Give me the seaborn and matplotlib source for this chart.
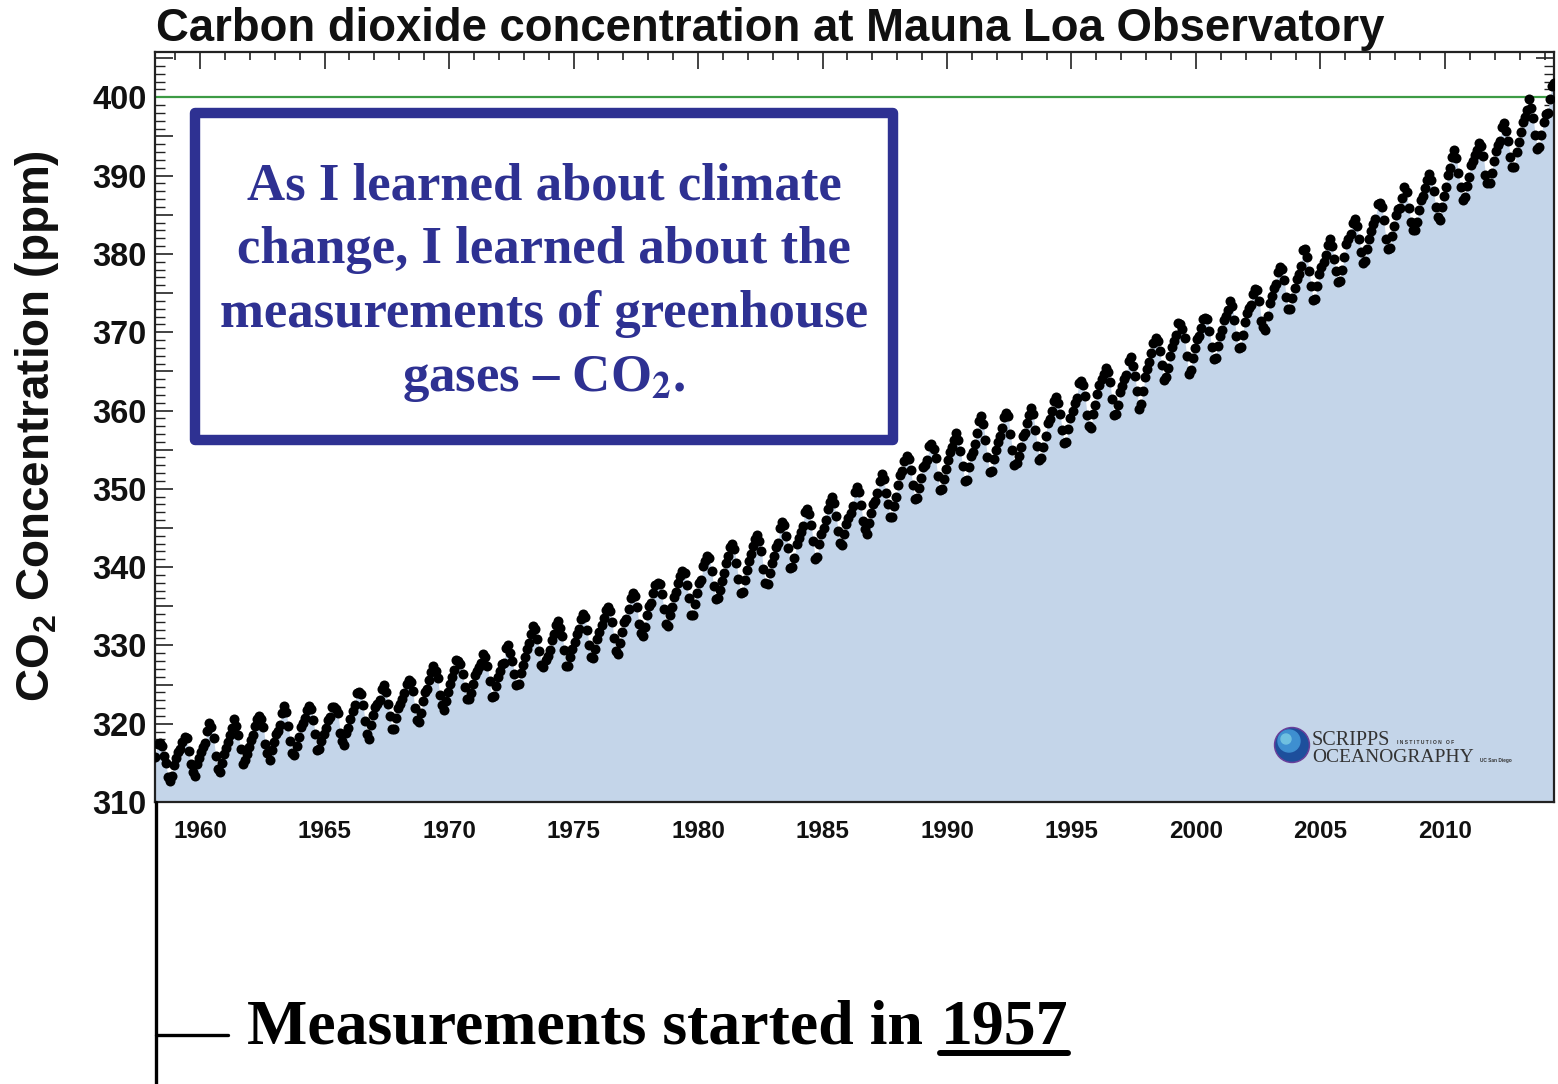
import numpy as np
import pandas as pd
import matplotlib
matplotlib.use("Agg")
import matplotlib.pyplot as plt
import seaborn as sns
from matplotlib.ticker import MultipleLocator, FuncFormatter
from matplotlib.patches import Rectangle, Circle
from matplotlib.lines import Line2D

# ---------------- data (monthly mean CO2, ppm) ----------------
years = list(range(1958, 2015))
first_month_1958 = 3  # record starts in March 1958
co2_monthly = [
    [315.71, 317.45, 317.50, 317.10, 315.86, 314.93, 313.20, 312.66, 313.33, 314.67],  # 1958
    [315.62, 316.38, 316.71, 317.72, 318.29, 318.15, 316.54, 314.80, 313.84, 313.26, 314.80, 315.58],
    [316.43, 316.97, 317.58, 319.02, 320.03, 319.59, 318.18, 315.91, 314.16, 313.83, 315.00, 316.19],
    [316.93, 317.70, 318.54, 319.48, 320.58, 319.77, 318.57, 316.79, 314.80, 315.38, 316.10, 317.01],
    [317.94, 318.56, 319.68, 320.63, 321.01, 320.55, 319.58, 317.40, 316.26, 315.42, 316.69, 317.69],
    [318.74, 319.08, 319.86, 321.39, 322.25, 321.47, 319.74, 317.77, 316.21, 315.99, 317.12, 318.31],
    [319.57, 320.07, 320.73, 321.77, 322.25, 321.89, 320.44, 318.70, 316.70, 316.79, 317.79, 318.71],
    [319.44, 320.44, 320.89, 322.13, 322.16, 321.87, 321.39, 318.81, 317.81, 317.30, 318.87, 319.42],
    [320.62, 321.59, 322.39, 323.87, 324.01, 323.75, 322.39, 320.37, 318.64, 318.10, 319.79, 321.08],
    [322.07, 322.50, 323.04, 324.42, 325.00, 324.09, 322.55, 320.92, 319.31, 319.31, 320.72, 321.96],
    [322.57, 323.15, 323.89, 325.02, 325.57, 325.36, 324.14, 322.03, 320.41, 320.25, 321.31, 322.84],
    [324.00, 324.42, 325.64, 326.66, 327.34, 326.76, 325.88, 323.67, 322.38, 321.78, 322.85, 324.11],
    [325.03, 325.99, 326.87, 328.13, 328.07, 327.66, 326.35, 324.69, 323.10, 323.16, 323.98, 325.13],
    [326.17, 326.68, 327.18, 327.78, 328.92, 328.57, 327.34, 325.46, 323.36, 323.57, 324.80, 326.01],
    [326.77, 327.63, 327.75, 329.72, 330.07, 329.09, 328.05, 326.32, 324.93, 325.06, 326.50, 327.55],
    [328.54, 329.56, 330.30, 331.50, 332.48, 332.07, 330.87, 329.31, 327.51, 327.18, 328.16, 328.64],
    [329.35, 330.71, 331.48, 332.65, 333.09, 332.25, 331.18, 329.40, 327.43, 327.37, 328.46, 329.57],
    [330.40, 331.40, 332.04, 333.31, 333.96, 333.59, 331.91, 330.06, 328.56, 328.34, 329.49, 330.76],
    [331.75, 332.56, 333.50, 334.58, 334.87, 334.34, 333.05, 330.94, 329.30, 328.94, 330.31, 331.68],
    [332.93, 333.42, 334.70, 336.07, 336.74, 336.27, 334.93, 332.75, 331.58, 331.16, 332.40, 333.85],
    [334.97, 335.39, 336.64, 337.76, 338.01, 337.89, 336.54, 334.68, 332.76, 332.54, 333.92, 334.95],
    [336.23, 336.76, 337.96, 338.89, 339.47, 339.29, 337.73, 336.09, 333.91, 333.86, 335.29, 336.73],
    [338.01, 338.36, 340.08, 340.77, 341.46, 341.17, 339.56, 337.60, 335.88, 336.01, 337.10, 338.21],
    [339.23, 340.47, 341.38, 342.51, 342.91, 342.25, 340.49, 338.43, 336.69, 336.85, 338.36, 339.61],
    [340.75, 341.61, 342.70, 343.56, 344.13, 343.35, 342.06, 339.82, 337.97, 337.86, 339.26, 340.49],
    [341.38, 342.52, 343.10, 344.94, 345.75, 345.32, 343.99, 342.39, 339.86, 339.99, 341.16, 342.99],
    [343.70, 344.51, 345.28, 347.08, 347.43, 346.79, 345.40, 343.28, 341.07, 341.35, 342.98, 344.22],
    [344.97, 345.99, 347.42, 348.35, 348.93, 348.25, 346.56, 344.67, 343.09, 342.80, 344.24, 345.56],
    [346.29, 346.96, 347.86, 349.55, 350.21, 349.54, 347.94, 345.91, 344.86, 344.17, 345.66, 346.90],
    [348.02, 348.47, 349.42, 350.99, 351.84, 351.25, 349.52, 348.10, 346.44, 346.36, 347.81, 348.96],
    [350.43, 351.72, 352.22, 353.59, 354.22, 353.79, 352.39, 350.44, 348.72, 348.88, 350.07, 351.34],
    [352.76, 353.07, 353.68, 355.42, 355.67, 355.13, 353.90, 351.67, 349.80, 349.99, 351.30, 352.53],
    [353.66, 354.70, 355.39, 356.20, 357.16, 356.22, 354.82, 352.91, 350.96, 351.18, 352.83, 354.21],
    [354.72, 355.75, 357.16, 358.60, 359.34, 358.24, 356.17, 354.03, 352.16, 352.21, 353.75, 354.99],
    [355.99, 356.72, 357.81, 359.15, 359.66, 359.25, 357.02, 355.00, 353.01, 353.31, 354.16, 355.40],
    [356.70, 357.16, 358.38, 359.46, 360.28, 359.60, 357.57, 355.52, 353.70, 353.98, 355.33, 356.80],
    [358.36, 358.91, 359.97, 361.26, 361.68, 360.95, 359.55, 357.49, 355.84, 356.00, 357.58, 359.04],
    [359.97, 361.00, 361.64, 363.45, 363.79, 363.26, 361.90, 359.46, 358.06, 357.75, 359.56, 360.70],
    [362.05, 363.25, 364.03, 364.72, 365.41, 364.97, 363.65, 361.49, 359.46, 359.60, 360.76, 362.33],
    [363.18, 363.99, 364.56, 366.36, 366.80, 365.63, 364.47, 362.50, 360.19, 360.78, 362.43, 364.28],
    [365.32, 366.15, 367.31, 368.61, 369.29, 368.87, 367.64, 365.77, 363.90, 364.23, 365.46, 366.97],
    [368.15, 368.87, 369.59, 371.14, 371.00, 370.35, 369.27, 366.94, 364.63, 365.12, 366.67, 368.01],
    [369.14, 369.46, 370.52, 371.66, 371.82, 371.70, 370.12, 368.12, 366.62, 366.73, 368.29, 369.53],
    [370.28, 371.50, 372.12, 372.87, 374.02, 373.30, 371.62, 369.55, 367.96, 368.09, 369.68, 371.24],
    [372.44, 373.08, 373.52, 374.85, 375.55, 375.40, 374.02, 371.48, 370.70, 370.25, 372.08, 373.78],
    [374.68, 375.62, 376.11, 377.65, 378.35, 378.13, 376.62, 374.50, 372.99, 373.00, 374.35, 375.70],
    [376.79, 377.37, 378.41, 380.52, 380.63, 379.57, 377.79, 375.86, 374.06, 374.24, 375.86, 377.48],
    [378.37, 378.92, 379.92, 381.18, 381.86, 381.06, 379.40, 377.77, 376.37, 376.50, 377.96, 379.58],
    [381.28, 381.87, 382.58, 383.95, 384.48, 383.59, 381.93, 380.27, 378.86, 379.10, 380.64, 381.96],
    [382.92, 383.86, 384.49, 386.37, 386.54, 385.98, 384.35, 381.85, 380.58, 380.79, 382.26, 383.59],
    [384.92, 385.70, 385.92, 387.15, 388.50, 387.86, 385.84, 384.13, 383.04, 382.99, 384.10, 385.56],
    [386.86, 387.37, 388.42, 389.48, 390.19, 389.46, 388.09, 385.98, 384.65, 384.35, 386.01, 387.43],
    [388.55, 390.07, 391.01, 392.38, 393.22, 392.24, 390.33, 388.52, 386.84, 387.24, 388.67, 389.79],
    [391.33, 391.86, 392.60, 393.25, 394.19, 393.74, 392.51, 390.13, 389.08, 389.00, 390.28, 391.86],
    [393.12, 393.86, 394.40, 396.18, 396.74, 395.71, 394.36, 392.39, 391.11, 391.05, 392.98, 394.34],
    [395.55, 396.80, 397.43, 398.41, 399.78, 398.60, 397.32, 395.20, 393.45, 393.70, 395.16, 396.84],
    [397.85, 398.01, 399.77, 401.38, 401.78],  # 2014
]
x_tick_years = [1960, 1965, 1970, 1975, 1980, 1985, 1990, 1995, 2000, 2005, 2010]
y_tick_labels = [310, 320, 330, 340, 350, 360, 370, 380, 390, 400]
reference_level = 400

title_text = "Carbon dioxide concentration at Mauna Loa Observatory"
ylabel_text = r"CO$_\mathbf{2}$ Concentration (ppm)"
box_lines = ["As I learned about climate", "change, I learned about the",
             "measurements of greenhouse", r"gases – CO$_\mathbf{2}$."]
footer_text = "Measurements started in"
footer_year = "1957"

# ---------------- build table ----------------
rows = []
for yr, vals in zip(years, co2_monthly):
    m0 = first_month_1958 if yr == 1958 else 1
    for i, v in enumerate(vals):
        m = m0 + i
        rows.append({"date": yr + (m - 0.5) / 12.0, "co2": v})
df = pd.DataFrame(rows)

# ---------------- style ----------------
sns.set_theme(style="white")
plt.rcParams["font.family"] = ["Liberation Sans", "DejaVu Sans"]
plt.rcParams["mathtext.fontset"] = "custom"
plt.rcParams["mathtext.rm"] = "Liberation Sans"
plt.rcParams["mathtext.bf"] = "Liberation Sans:bold"

W, H = 1558, 1084
fig = plt.figure(figsize=(W / 100, H / 100), dpi=100)
fig.patch.set_facecolor("white")


def fx(x):
    return x / W


def fy(y):
    return 1 - y / H


ax_l, ax_r, ax_t, ax_b = 155, 1554, 51.5, 802
ax = fig.add_axes([fx(ax_l), fy(ax_b), (ax_r - ax_l) / W, (ax_b - ax_t) / H])
ax.set_facecolor("white")

ax.fill_between(df["date"], df["co2"], 300, color="#c4d5e9", linewidth=0, zorder=1)
ax.axhline(reference_level, color="#3d9b45", lw=1.6, zorder=2)
sns.scatterplot(data=df, x="date", y="co2", color="black", s=52, linewidth=0,
                ax=ax, legend=False, zorder=3)

ax.set_xlim(1958.19, 2014.38)
ax.set_ylim(310, 405.85)
ax.set_xlabel("")
ax.set_ylabel("")

ax.xaxis.set_major_locator(MultipleLocator(5))
ax.xaxis.set_minor_locator(MultipleLocator(1))
ax.set_xticks(x_tick_years)
ax.set_xticklabels([str(v) for v in x_tick_years])
ax.yaxis.set_major_locator(MultipleLocator(5))
ax.yaxis.set_minor_locator(MultipleLocator(1))
ax.yaxis.set_major_formatter(FuncFormatter(
    lambda v, p: str(int(round(v))) if int(round(v)) in y_tick_labels else ""))

ax.tick_params(axis="x", which="both", direction="in", top=True, bottom=True,
               color="#222222")
ax.tick_params(axis="x", which="major", length=12.5, width=1.2, pad=13,
               labelsize=17.5)
ax.tick_params(axis="x", which="minor", length=6, width=1.2)
ax.tick_params(axis="y", which="both", direction="in", left=True, right=True,
               color="#222222")
ax.tick_params(axis="y", which="major", length=13, width=1.2, pad=6,
               labelsize=23.5)
ax.tick_params(axis="y", which="minor", length=7, width=1.0)
for lab in ax.get_xticklabels() + ax.get_yticklabels():
    lab.set_fontweight("bold")
    lab.set_color("#111111")
for sp in ax.spines.values():
    sp.set_color("#222222")
    sp.set_linewidth(1.6)

# title and y label
fig.text(fx(156), fy(41), title_text, fontsize=32.8, fontweight="bold",
         ha="left", va="baseline", color="#111111")
fig.text(fx(37), fy(426), ylabel_text, fontsize=33, fontweight="bold",
         rotation=90, ha="center", va="center", color="#111111")

# text box
navy = "#2e3192"
box = Rectangle((fx(195), fy(440)), (893 - 195) / W, (440 - 113) / H,
                transform=fig.transFigure, facecolor="white", edgecolor=navy,
                linewidth=7.5, joinstyle="round", zorder=5)
fig.patches.append(box)
baselines = [200, 263, 327, 391]
for line, yb in zip(box_lines, baselines):
    fig.text(fx(544), fy(yb), line, fontsize=38, fontweight="bold",
             family="Liberation Serif", math_fontfamily="stix",
             ha="center", va="baseline", color=navy, zorder=6)

# Scripps logo
logo_ax = fig.add_axes([0, 0, 1, 1], facecolor="none")
logo_ax.set_xlim(0, W)
logo_ax.set_ylim(H, 0)
logo_ax.axis("off")
logo_ax.add_patch(Circle((1292, 745), 17.5, color="#6a3f9a", zorder=1))
logo_ax.add_patch(Circle((1292, 745), 16, color="#1d4f9c", zorder=2))
logo_ax.add_patch(Circle((1289, 741), 11, color="#3e8fd0", zorder=3))
logo_ax.add_patch(Circle((1286, 739), 5, color="#6fc0e0", zorder=4))
logo_ax.text(1312, 745, "SCRIPPS", family="Liberation Serif", fontsize=14.5,
             color="#333333", ha="left", va="baseline")
logo_ax.text(1397, 744, "I N S T I T U T I O N   O F", family="Liberation Sans",
             fontsize=3.6, fontweight="bold", color="#333333", ha="left",
             va="baseline")
logo_ax.text(1312, 762, "OCEANOGRAPHY", family="Liberation Serif", fontsize=14,
             color="#333333", ha="left", va="baseline")
logo_ax.text(1480, 762, "UC San Diego", family="Liberation Sans", fontsize=3.4,
             fontweight="bold", color="#333333", ha="left", va="baseline")

# bracket lines and footer text
logo_ax.add_line(Line2D([156, 156], [802, H], color="black", lw=2.4))
logo_ax.add_line(Line2D([156, 228], [1035, 1035], color="black", lw=2.4))
logo_ax.text(247, 1043, footer_text, family="Liberation Serif", fontsize=46,
             fontweight="bold", color="black", ha="left", va="baseline")
logo_ax.text(1068, 1043, footer_year, family="Liberation Serif", fontsize=46,
             fontweight="bold", color="black", ha="right", va="baseline")
logo_ax.add_line(Line2D([940, 1068], [1053, 1053], color="black", lw=4.3))

fig.savefig("out.png", dpi=100, facecolor="white")
